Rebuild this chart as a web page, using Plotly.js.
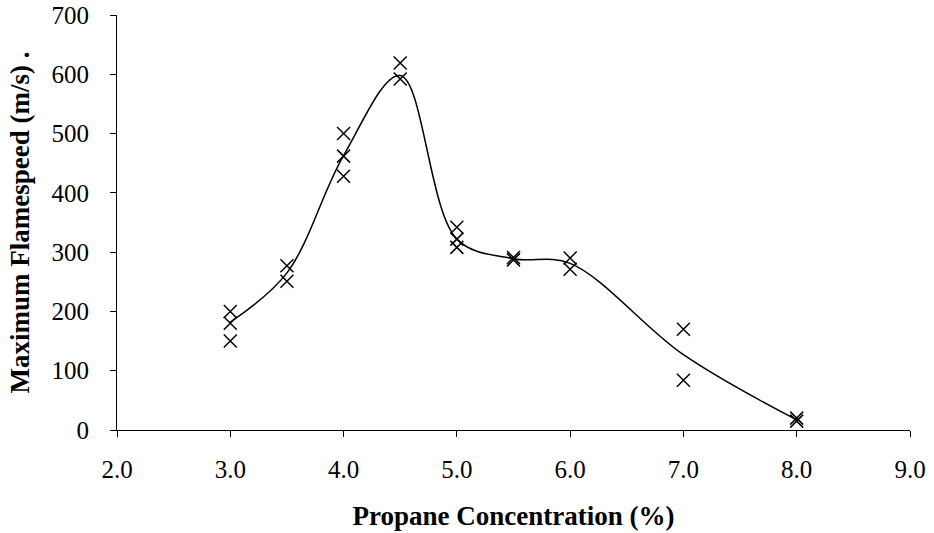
<!DOCTYPE html>
<html>
<head>
<meta charset="utf-8">
<script src="https://cdn.plot.ly/plotly-3.0.1.min.js"></script>
<style>html,body{margin:0;padding:0;background:#fff;}#chart{width:934px;height:533px;}</style>
</head>
<body>
<div id="chart"></div>
<script>
// Measured points (propane %, max flamespeed m/s)
const pointX = [3.0, 3.0, 3.0, 3.5, 3.5, 4.0, 4.0, 4.0, 4.5, 4.5, 5.0, 5.0, 5.0, 5.5, 5.5, 6.0, 6.0, 7.0, 7.0, 8.0, 8.0];
const pointY = [200, 180, 150, 277, 251, 500, 462, 428, 619, 592, 342, 322, 308, 291, 287, 290, 271, 170, 84, 20, 15];
// Smoothed trend line
const curveX = [3.0, 3.5, 4.0, 4.5, 5.0, 5.5, 6.0, 7.0, 8.0];
const curveY = [182, 265, 463, 598, 322, 289, 281, 127, 17];
const xTicks = [2, 3, 4, 5, 6, 7, 8, 9];
const xTickText = ["2.0", "3.0", "4.0", "5.0", "6.0", "7.0", "8.0", "9.0"];
const yTicks = [0, 100, 200, 300, 400, 500, 600, 700];

const serif = "Liberation Serif, Times New Roman, serif";

const traces = [
  {
    x: curveX, y: curveY, type: "scatter", mode: "lines",
    line: {color: "#000", width: 1.5, shape: "spline", smoothing: 1},
    hoverinfo: "skip", showlegend: false
  },
  {
    x: pointX, y: pointY, type: "scatter", mode: "markers",
    marker: {symbol: "x-thin-open", size: 13, color: "#000", line: {color: "#000", width: 1.5}},
    showlegend: false
  }
];

const layout = {
  width: 934, height: 533,
  margin: {l: 117, r: 24, t: 15, b: 103},
  paper_bgcolor: "#fff", plot_bgcolor: "#fff",
  font: {family: serif, color: "#000", size: 25},
  xaxis: {
    range: [2, 9], tickvals: xTicks, ticktext: xTickText,
    showgrid: false, zeroline: false, showline: true, linecolor: "#000", linewidth: 1,
    ticks: "outside", ticklen: 6, tickcolor: "#000", ticklabelstandoff: 11,
    tickfont: {family: serif, size: 25, color: "#000"},
    title: {text: "<b>Propane Concentration (%)</b>", font: {family: serif, size: 27, color: "#000"}, standoff: 24}
  },
  yaxis: {
    range: [0, 700], tickvals: yTicks,
    showgrid: false, zeroline: false, showline: true, linecolor: "#000", linewidth: 1,
    ticks: "outside", ticklen: 6, tickcolor: "#000", ticklabelstandoff: 16,
    tickfont: {family: serif, size: 25, color: "#000"},
    title: {text: "<b>Maximum Flamespeed (m/s) .</b>", font: {family: serif, size: 27, color: "#000"}, standoff: 14}
  }
};

Plotly.newPlot("chart", traces, layout, {displayModeBar: false, staticPlot: true});
</script>
</body>
</html>
